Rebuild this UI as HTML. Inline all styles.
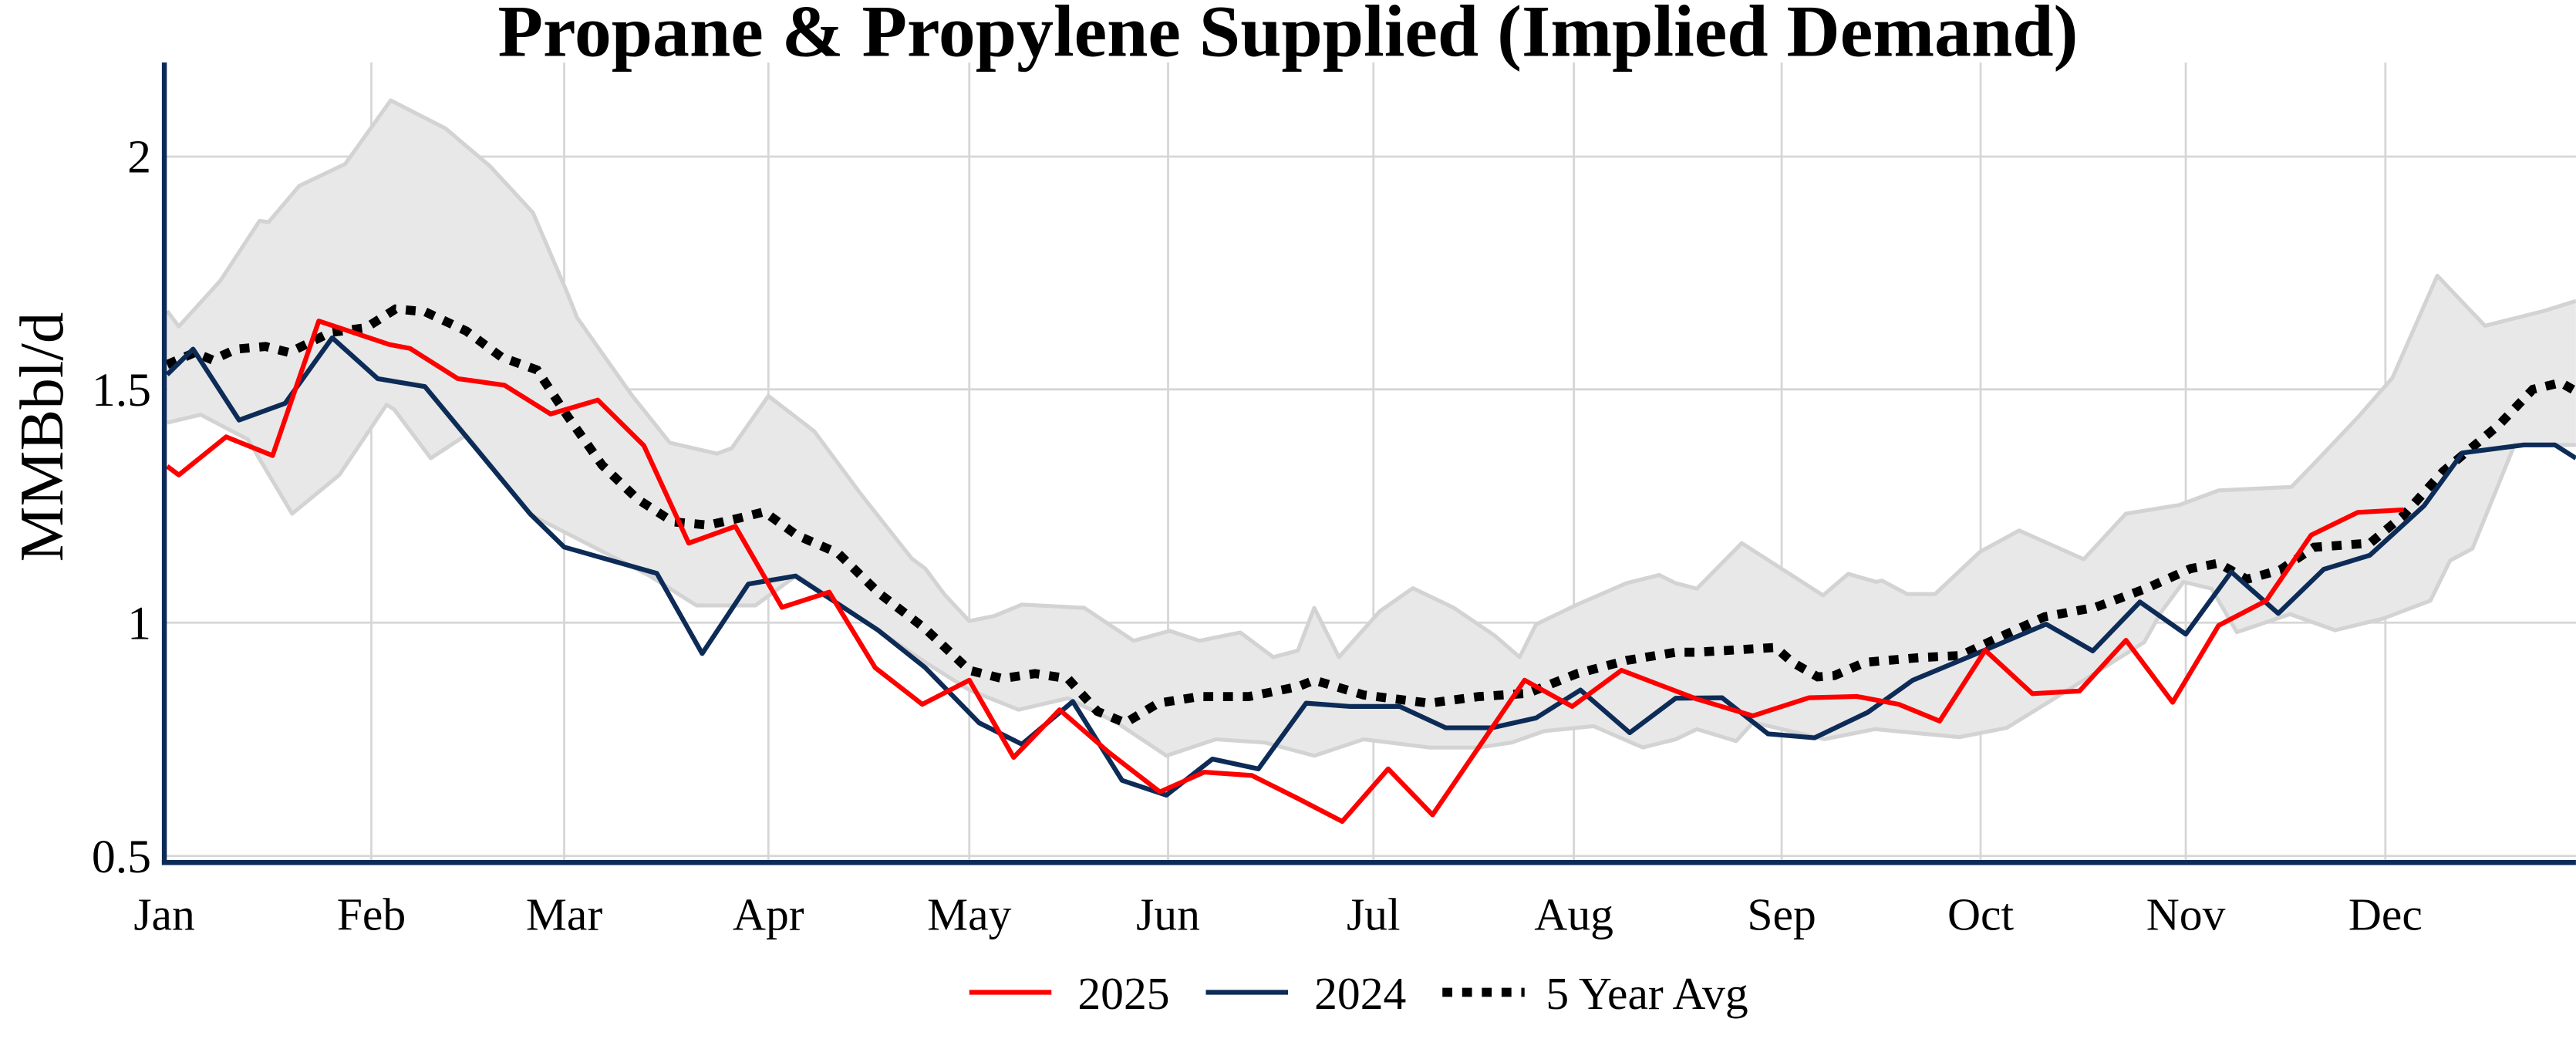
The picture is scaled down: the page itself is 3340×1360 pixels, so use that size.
<!DOCTYPE html>
<html><head><meta charset="utf-8"><style>html,body{margin:0;padding:0;background:#fff}svg{display:block}</style></head>
<body>
<svg width="3340" height="1360" viewBox="0 0 1568 638.5" xmlns="http://www.w3.org/2000/svg" font-family="Liberation Serif, serif">
<defs><clipPath id="c"><rect x="100" y="38" width="1468" height="487"/></clipPath></defs>
<rect width="1568" height="638.5" fill="#fff"/>
<g stroke="#d6d6d6" stroke-width="1.3">
<line x1="100" x2="1568" y1="95.3" y2="95.3"/><line x1="100" x2="1568" y1="237" y2="237"/><line x1="100" x2="1568" y1="379" y2="379"/><line x1="100" x2="1568" y1="521" y2="521"/>
<line x1="226" x2="226" y1="38" y2="525"/><line x1="343.4" x2="343.4" y1="38" y2="525"/><line x1="467.7" x2="467.7" y1="38" y2="525"/><line x1="590" x2="590" y1="38" y2="525"/><line x1="711" x2="711" y1="38" y2="525"/><line x1="836" x2="836" y1="38" y2="525"/><line x1="958" x2="958" y1="38" y2="525"/><line x1="1084.5" x2="1084.5" y1="38" y2="525"/><line x1="1205.6" x2="1205.6" y1="38" y2="525"/><line x1="1330.5" x2="1330.5" y1="38" y2="525"/><line x1="1452" x2="1452" y1="38" y2="525"/>
</g>
<g clip-path="url(#c)">
<polygon fill="#e8e8e8" points="101.7,189.3 108.8,198.7 134,171 158,134.4 163.4,135.2 182.1,113.2 210.1,99.8 237.8,61.1 271.2,78.2 298.1,101 324.4,129.5 344.8,177.1 351.3,193.4 384.3,240.2 407.7,269.5 436.4,276.1 445.4,272.8 467.7,241 495.7,262.6 524.4,301.3 555,340 563.2,346.1 575,362 590,378 605,375 622,368 660,370 690,390 712,384 730,390 755,385 775,400 790,396 800,370 815,400 840,372 860,358 885,370 910,387 925,400 935,380 960,368 990,355 1010,350 1020,355 1032.9,358.3 1060.2,330.6 1109.7,362.4 1125,349.3 1142.1,354.2 1145.5,353.4 1160.9,361.6 1177.9,361.6 1205.2,335.9 1229.1,322.9 1268.4,340.4 1294,312.7 1326.5,307.4 1350.5,298.5 1394.8,296.4 1408.6,282.2 1435.9,253.3 1456.3,230 1483.6,167.8 1512.6,198.3 1548.4,189.3 1568,183.2 1568,270.8 1530.6,270.8 1505,333.9 1491.4,341.2 1479.4,365.6 1450.4,376.6 1421.4,383.6 1394,373.8 1361.6,384.8 1346.2,358.3 1329.1,354.2 1315.5,372.6 1305.2,390.9 1267.7,414.5 1221.6,443 1192.6,448.7 1141.4,443.8 1110.6,449.9 1067.1,439.7 1056.8,451.1 1032.9,443.8 1020,450 1000,455 970,442 940,445 920,452 900,455 870,455 830,450 800,460 770,452 740,450 710,460 680,440 650,425 620,432 590,420 563.2,403.1 484.9,350.2 459.8,368.5 423.9,368.5 395,350.2 323.3,313.5 283.8,264.7 262.2,278.9 239.9,249.2 235.3,246.3 206.5,289.1 177.8,312.7 150.9,267.5 122.1,252.4 101.7,257.3"/>
<g fill="none" stroke="#d3d3d3" stroke-width="2.4" stroke-linejoin="round">
<polyline points="101.7,189.3 108.8,198.7 134,171 158,134.4 163.4,135.2 182.1,113.2 210.1,99.8 237.8,61.1 271.2,78.2 298.1,101 324.4,129.5 344.8,177.1 351.3,193.4 384.3,240.2 407.7,269.5 436.4,276.1 445.4,272.8 467.7,241 495.7,262.6 524.4,301.3 555,340 563.2,346.1 575,362 590,378 605,375 622,368 660,370 690,390 712,384 730,390 755,385 775,400 790,396 800,370 815,400 840,372 860,358 885,370 910,387 925,400 935,380 960,368 990,355 1010,350 1020,355 1032.9,358.3 1060.2,330.6 1109.7,362.4 1125,349.3 1142.1,354.2 1145.5,353.4 1160.9,361.6 1177.9,361.6 1205.2,335.9 1229.1,322.9 1268.4,340.4 1294,312.7 1326.5,307.4 1350.5,298.5 1394.8,296.4 1408.6,282.2 1435.9,253.3 1456.3,230 1483.6,167.8 1512.6,198.3 1548.4,189.3 1568,183.2"/>
<polyline points="1568,270.8 1530.6,270.8 1505,333.9 1491.4,341.2 1479.4,365.6 1450.4,376.6 1421.4,383.6 1394,373.8 1361.6,384.8 1346.2,358.3 1329.1,354.2 1315.5,372.6 1305.2,390.9 1267.7,414.5 1221.6,443 1192.6,448.7 1141.4,443.8 1110.6,449.9 1067.1,439.7 1056.8,451.1 1032.9,443.8 1020,450 1000,455 970,442 940,445 920,452 900,455 870,455 830,450 800,460 770,452 740,450 710,460 680,440 650,425 620,432 590,420 563.2,403.1 484.9,350.2 459.8,368.5 423.9,368.5 395,350.2 323.3,313.5 283.8,264.7 262.2,278.9 239.9,249.2 235.3,246.3 206.5,289.1 177.8,312.7 150.9,267.5 122.1,252.4 101.7,257.3"/>
</g>
<polyline fill="none" stroke="#000" stroke-width="5.5" stroke-dasharray="6,6" points="101.7,221.9 118.5,214.6 129.3,219.1 143.7,212.5 161.6,210.9 176,214.6 201.1,202.4 222.7,199.5 240.7,188.1 258.6,189.7 283.8,201.5 305.3,217.4 326.9,225.2 344.8,252.4 366.4,283 387.9,303.7 409.5,317.6 431,319.6 449,315.6 465.2,311.5 484.9,325.7 510.1,336.7 535.2,361.2 563.2,382.7 590,408 610,413 630,410 650,413 668,433 685,440 705,428 730,424 760,424 790,418 800,414 830,423 870,428 900,424 930,422 960,410 990,402 1020,397 1032.9,397 1080.8,394.1 1091,403.1 1106.4,412 1116.6,411.2 1135.4,403.1 1169.5,400.2 1193.4,399 1210.5,390.9 1244.6,375.4 1275.4,369.7 1306.1,358.3 1333.4,346.1 1350.5,342.8 1367.6,352.6 1388,346.9 1408.6,333.1 1442.7,330.6 1463.2,313.5 1487.1,287 1521.3,258.5 1541.8,237 1558.8,232.9 1568,238.2"/>
<polyline fill="none" stroke="#0d2b57" stroke-width="2.9" stroke-linejoin="round" points="101.7,228 117.5,212.5 145.5,255.7 173.5,245.5 202.2,205.6 229.9,230.5 258.6,235.3 322.6,312.7 343.4,333 399.8,349 427.4,397.8 455.5,355.5 484.2,350.6 534.5,383.6 563.2,406.4 596,440 622,453 653,427 683,475 710,484 738,462 766,468 795,428 822,430 852,430 880,443 908,443 935,437 962,420 992,446 1020,425 1048.2,424.7 1076.2,446.7 1104.5,449.1 1136.9,433.6 1164.2,414.1 1205.2,397 1245.5,379.9 1273.9,396.2 1302.6,366.4 1330.5,386 1358.2,348.1 1386.8,373.4 1414.5,346.5 1442.5,338 1475.6,307.8 1498.9,275.7 1536.4,270.8 1555.2,270.8 1568,278.9"/>
<polyline fill="none" stroke="#ff0000" stroke-width="2.9" stroke-linejoin="round" points="101.7,283.8 108.8,289.1 137.6,265.9 165.9,277.3 194,195.4 237,209.7 249.6,212.1 278.7,230.5 307.1,234.5 335.1,252 363.9,243.5 391.9,271.2 419.2,330.6 447.6,320.4 476,369.7 504.7,360.4 532.7,406.4 561.4,428.7 590,414 617,461 645,432 675,458 706,482 733,470 762,472 790,486 817,500 845,468 872,496 900,455 928,414 957,430 987,408 1032.9,425.5 1067,435.7 1101.2,424.7 1130.2,423.9 1155.8,428.7 1180.7,438.9 1208.4,395.8 1237.1,422.2 1265.8,420.6 1294.1,389.7 1322.5,427.5 1350.5,380.7 1379.5,365.6 1406.8,325.7 1435.1,311.9 1463.1,310.3"/>
</g>
<line x1="100" y1="38" x2="100" y2="526.5" stroke="#0d2b57" stroke-width="3"/>
<line x1="98.5" y1="525" x2="1568" y2="525" stroke="#0d2b57" stroke-width="3"/>
<text x="784" y="34" text-anchor="middle" font-size="45" font-weight="bold">Propane &amp; Propylene Supplied (Implied Demand)</text>
<text transform="translate(38,266) rotate(-90)" text-anchor="middle" font-size="38">MMBbl/d</text>
<g font-size="29" text-anchor="end">
<text x="92" y="105">2</text><text x="92" y="247">1.5</text><text x="92" y="389">1</text><text x="92" y="531">0.5</text>
</g>
<g font-size="28" text-anchor="middle">
<text x="100" y="566">Jan</text><text x="226" y="566">Feb</text><text x="343.4" y="566">Mar</text><text x="467.7" y="566">Apr</text><text x="590" y="566">May</text><text x="711" y="566">Jun</text><text x="836" y="566">Jul</text><text x="958" y="566">Aug</text><text x="1084.5" y="566">Sep</text><text x="1205.6" y="566">Oct</text><text x="1330.5" y="566">Nov</text><text x="1452" y="566">Dec</text>
</g>
<g font-size="28">
<line x1="590" y1="604" x2="640" y2="604" stroke="#ff0000" stroke-width="2.9"/><text x="656" y="614">2025</text>
<line x1="734" y1="604" x2="784" y2="604" stroke="#0d2b57" stroke-width="2.9"/><text x="800" y="614">2024</text>
<line x1="878" y1="604" x2="928" y2="604" stroke="#000" stroke-width="5.5" stroke-dasharray="6,6"/><text x="941" y="614">5 Year Avg</text>
</g>
</svg>
</body></html>
